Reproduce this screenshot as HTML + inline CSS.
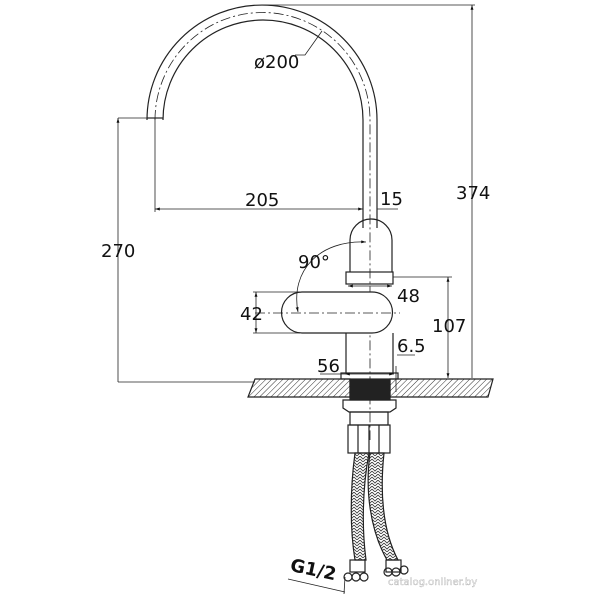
<!DOCTYPE html>
<html><head><style>body{margin:0;background:#fff}svg{display:block}text{font-family:"DejaVu Sans","Liberation Sans",sans-serif;fill:#111}</style></head>
<body>
<svg width="600" height="600" viewBox="0 0 600 600" xmlns="http://www.w3.org/2000/svg">
<defs>
<pattern id="h" width="4" height="4" patternUnits="userSpaceOnUse" patternTransform="rotate(45)"><line x1="0" y1="0" x2="0" y2="4" stroke="#333" stroke-width="1"/></pattern>
<pattern id="br" width="6" height="6" patternUnits="userSpaceOnUse"><path d="M0 0 L3 3 L6 0 M0 3 L3 6 L6 3" stroke="#333" fill="none" stroke-width="0.8"/></pattern>
<marker id="a" viewBox="0 0 10 10" refX="10" refY="5" markerWidth="6" markerHeight="6" orient="auto-start-reverse"><path d="M0 2 L10 5 L0 8z" fill="#111"/></marker>
</defs>
<g fill="none" stroke="#222" stroke-width="1.2">
<!-- spout -->
<path d="M147 118 L147 120 A115 115 0 0 1 377 120 L377 228"/>
<path d="M163 118 L163 120 A100 100 0 0 1 363 120 L363 228"/>
<line x1="147" y1="118" x2="163" y2="118"/>
<path d="M155 120 A107.5 107.5 0 0 1 370 120 L370 440" stroke-dasharray="10 3 2 3" stroke-width="0.8"/>
<!-- upper body -->
<path d="M350 272 L350 240 A21 21 0 0 1 392 240 L392 272"/>
<rect x="346" y="272" width="47" height="12"/>
<!-- handle -->
<path d="M302 292 L372 292 A20.5 20.5 0 0 1 372 333 L302 333 A20.5 20.5 0 0 1 302 292z" fill="#fff"/>
<line x1="255" y1="313" x2="400" y2="313" stroke-dasharray="10 3 2 3" stroke-width="0.8"/>
<path d="M346 333 L346 373 M393 333 L393 373"/>
<rect x="341" y="373" width="57" height="6"/>
<!-- counter -->
<path d="M255 379 L350 379 L350 397 L248 397z" fill="url(#h)"/>
<path d="M390 379 L493 379 L488 397 L390 397z" fill="url(#h)"/>
<rect x="350" y="380" width="40" height="20" fill="#222"/>
<path d="M343 400 L396 400 L396 408 L390 412 L349 412 L343 408z"/>
<rect x="350" y="412" width="38" height="13"/>
<rect x="348" y="425" width="42" height="28"/>
<path d="M358 425 V453 M369 425 V453 M379 425 V453"/>
<!-- hoses -->
<path d="M355 453 C350 490 350 530 355 560 L366 560 C362 530 362 490 369 453z" fill="url(#br)"/>
<path d="M370 453 C365 490 370 530 387 560 L398 560 C382 530 380 490 384 453z" fill="url(#br)"/>
<rect x="350" y="560" width="15" height="12"/>
<circle cx="348" cy="577" r="4"/><circle cx="356" cy="577" r="4"/><circle cx="364" cy="577" r="4"/>
<rect x="386" y="560" width="15" height="12"/>
<circle cx="388" cy="572" r="4"/><circle cx="396" cy="572" r="4"/><circle cx="404" cy="570" r="4"/>
</g>
<g fill="none" stroke="#222" stroke-width="0.8">
<line x1="263" y1="5" x2="475" y2="5"/>
<line x1="472" y1="378" x2="472" y2="5" marker-end="url(#a)"/>
<line x1="118" y1="118" x2="147" y2="118"/>
<line x1="118" y1="382" x2="118" y2="118" marker-end="url(#a)"/>
<line x1="118" y1="382" x2="255" y2="382"/>
<line x1="155" y1="118" x2="155" y2="212"/>
<line x1="155" y1="209" x2="363" y2="209" marker-start="url(#a)" marker-end="url(#a)"/>
<line x1="377" y1="209" x2="398" y2="209"/>
<path d="M322 31 L305 55 L295 55"/>
<line x1="393" y1="277" x2="452" y2="277"/>
<line x1="448" y1="277" x2="448" y2="378" marker-start="url(#a)" marker-end="url(#a)"/>
<line x1="348" y1="286" x2="392" y2="286" marker-start="url(#a)" marker-end="url(#a)"/>
<line x1="253" y1="292" x2="300" y2="292"/><line x1="253" y1="333" x2="300" y2="333"/>
<line x1="256" y1="292" x2="256" y2="333" marker-start="url(#a)" marker-end="url(#a)"/>
<path d="M366 242 C320 240 290 270 298 312" marker-start="url(#a)" marker-end="url(#a)"/>
<line x1="320" y1="374" x2="345" y2="374"/><line x1="345" y1="374" x2="394" y2="374" marker-start="url(#a)" marker-end="url(#a)"/>
<path d="M396 366 V392 M397 355 L415 355"/>
<path d="M288 579 L345 592 M345 577 L344 594"/>
</g>
<g font-size="18">
<text x="254" y="68">ø200</text>
<text x="245" y="206">205</text>
<text x="380" y="205">15</text>
<text x="456" y="199">374</text>
<text x="101" y="257">270</text>
<text x="298" y="268">90°</text>
<text x="397" y="302">48</text>
<text x="240" y="320">42</text>
<text x="432" y="332">107</text>
<text x="397" y="352">6.5</text>
<text x="317" y="372">56</text>
<text x="290" y="575" transform="rotate(12 310 570)" font-weight="bold">G1/2</text>
</g>
<text x="388" y="585" font-size="10" style="fill:#fff;stroke:#999;stroke-width:0.3">catalog.onliner.by</text>
</svg>
</body></html>
